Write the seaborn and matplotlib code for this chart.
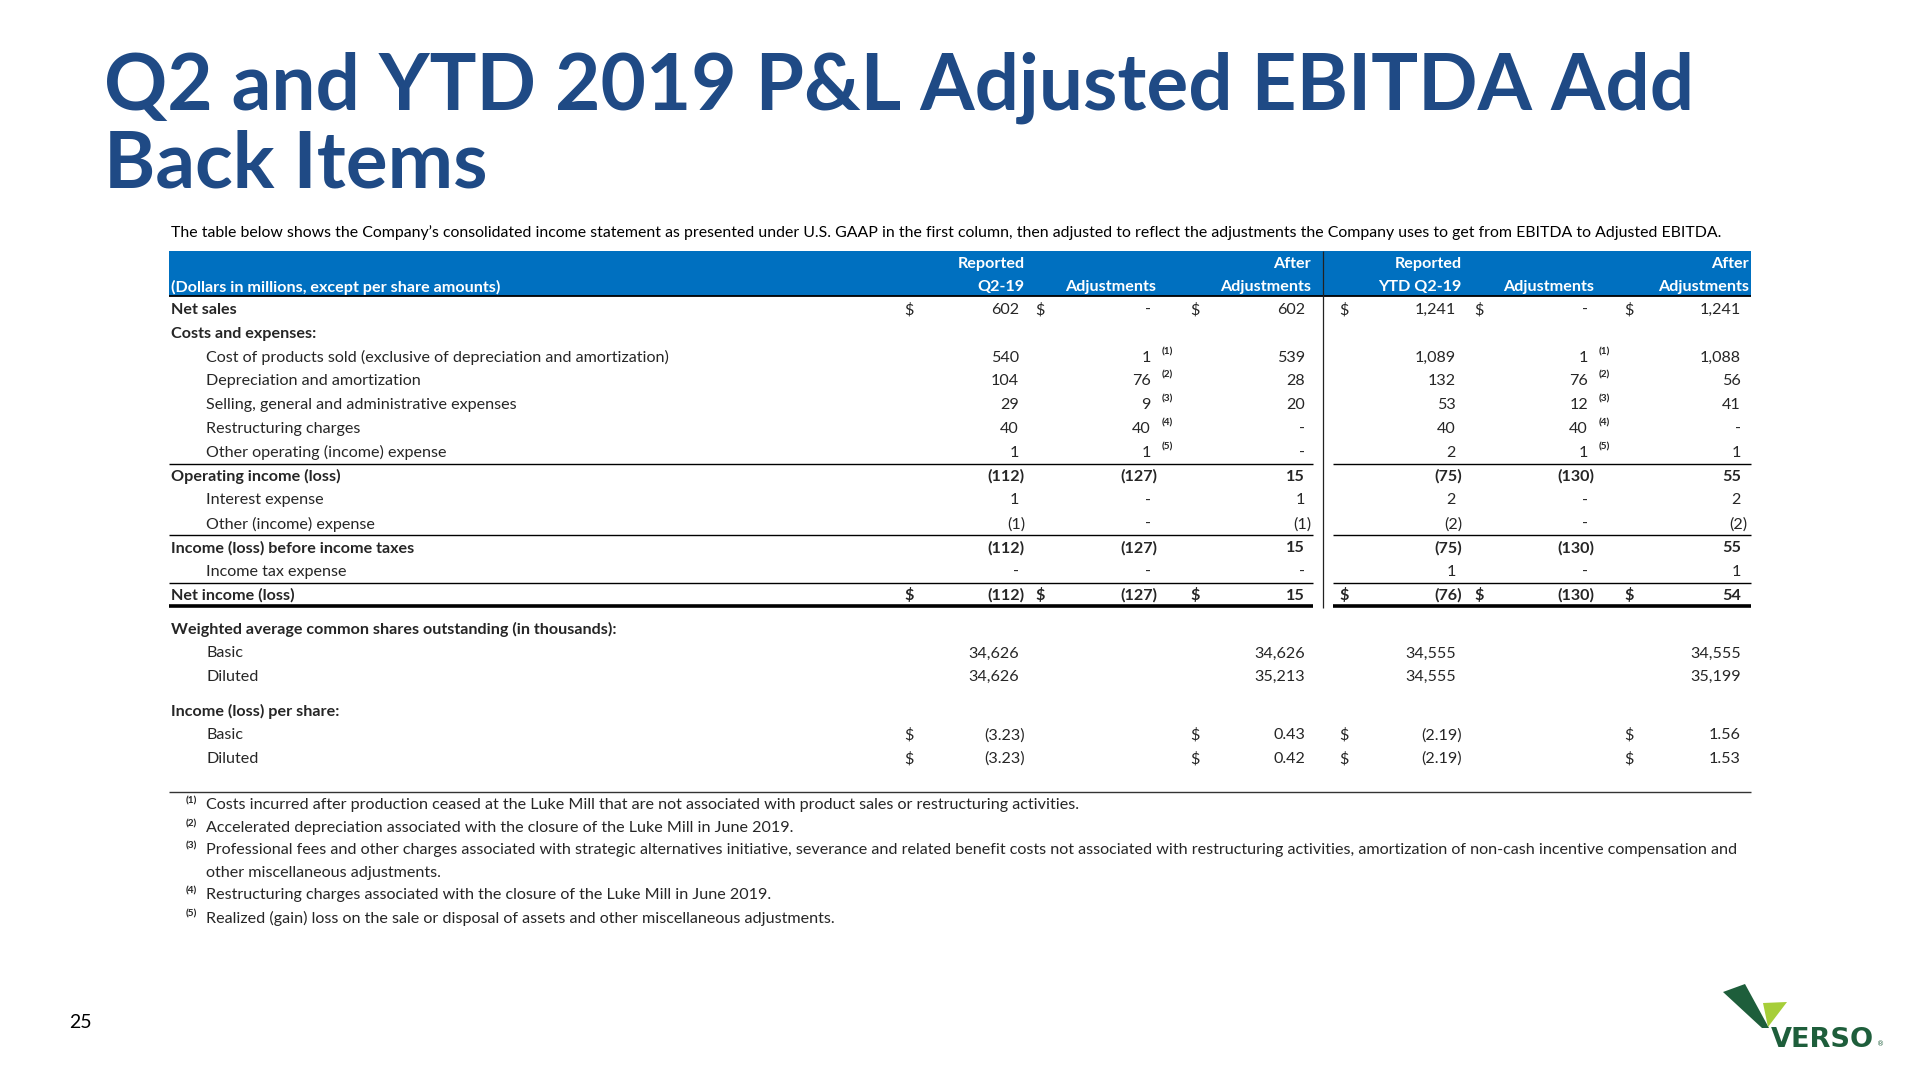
import matplotlib
matplotlib.use("Agg")
import matplotlib.pyplot as plt
import seaborn as sns

# ---- table content ----
row_labels = [
    "Net sales",
    "Costs and expenses:",
    "Cost of products sold (exclusive of depreciation and amortization)",
    "Depreciation and amortization",
    "Selling, general and administrative expenses",
    "Restructuring charges",
    "Other operating (income) expense",
    "Operating income (loss)",
    "Interest expense",
    "Other (income) expense",
    "Income (loss) before income taxes",
    "Income tax expense",
    "Net income (loss)",
    "Weighted average common shares outstanding (in thousands):",
    "Basic",
    "Diluted",
    "Income (loss) per share:",
    "Basic",
    "Diluted",
]
bold_rows = [0, 1, 7, 10, 12, 13, 16]
bold_value_rows = [7, 10, 12]
indent_rows = [2, 3, 4, 5, 6, 8, 9, 11, 14, 15, 17, 18]
dollar_rows = [0, 12, 17, 18]
per_share_rows = [17, 18]

q2_reported = [602, None, 540, 104, 29, 40, 1, -112, 1, -1, -112, 0, -112, None, 34626, 34626, None, -3.23, -3.23]
q2_adjust = [0, None, 1, 76, 9, 40, 1, -127, 0, 0, -127, 0, -127, None, None, None, None, None, None]
q2_after = [602, None, 539, 28, 20, 0, 0, 15, 1, -1, 15, 0, 15, None, 34626, 35213, None, 0.43, 0.42]
ytd_reported = [1241, None, 1089, 132, 53, 40, 2, -75, 2, -2, -75, 1, -76, None, 34555, 34555, None, -2.19, -2.19]
ytd_adjust = [0, None, 1, 76, 12, 40, 1, -130, 0, 0, -130, 0, -130, None, None, None, None, None, None]
ytd_after = [1241, None, 1088, 56, 41, 0, 1, 55, 2, -2, 55, 1, 54, None, 34555, 35199, None, 1.56, 1.53]

footnote_rows = [2, 3, 4, 5, 6]
footnote_marks = ["(1)", "(2)", "(3)", "(4)", "(5)"]
footnotes = [
    ("(1)", "Costs incurred after production ceased at the Luke Mill that are not associated with product sales or restructuring activities."),
    ("(2)", "Accelerated depreciation associated with the closure of the Luke Mill in June 2019."),
    ("(3)", "Professional fees and other charges associated with strategic alternatives initiative, severance and related benefit costs not associated with restructuring activities, amortization of non-cash incentive compensation and"),
    ("", "other miscellaneous adjustments."),
    ("(4)", "Restructuring charges associated with the closure of the Luke Mill in June 2019."),
    ("(5)", "Realized (gain) loss on the sale or disposal of assets and other miscellaneous adjustments."),
]

title = "Q2 and YTD 2019 P&L Adjusted EBITDA Add\nBack Items"
subtitle = ("The table below shows the Company\u2019s consolidated income statement as presented under U.S. GAAP "
            "in the first column, then adjusted to reflect the adjustments the Company uses to get from EBITDA to Adjusted EBITDA.")
header_top = ["Reported", "", "After", "Reported", "", "After"]
header_bottom = ["Q2-19", "Adjustments", "Adjustments", "YTD Q2-19", "Adjustments", "Adjustments"]

# ---- styling ----
TITLE_BLUE = "#1F4A85"
BAND_BLUE = "#0070C0"
FONT = ["Lato", "DejaVu Sans"]
FS = 11.65


def fmt(v, per_share=False):
    if v is None:
        return ""
    if v == 0:
        return "-"
    if per_share:
        s = f"{abs(v):.2f}"
    else:
        s = f"{abs(v):,.0f}"
    return f"({s})" if v < 0 else s


sns.set_theme(style="white")
plt.rcParams["font.family"] = FONT

fig = plt.figure(figsize=(19.2, 10.8), dpi=100)
ax = fig.add_axes([0, 0, 1, 1])
ax.set_xlim(0, 1920)
ax.set_ylim(1080, 0)
ax.axis("off")

# title + subtitle
t1, t2 = title.split("\n")
ax.text(104, 88, t1, fontsize=56.3, fontweight="bold", color=TITLE_BLUE, va="center", ha="left")
ax.text(104, 165, t2, fontsize=56.3, fontweight="bold", color=TITLE_BLUE, va="center", ha="left")
ax.text(171, 233, subtitle, fontsize=11.45, color="black", va="center", ha="left")

# header band
left, right = 169, 1751
ax.fill_between([left, right], 251, 296, color=BAND_BLUE, lw=0)
ax.text(171, 287, "(Dollars in millions, except per share amounts)", fontsize=FS, fontweight="bold",
        color="white", va="center", ha="left")

# column layout: (dollar sign x, right edge x incl. closing paren)
cols = [(909, 1025), (1040, 1157), (1195, 1311), (1344, 1462), (1479, 1594), (1629, 1747)]
head_x = [(1025, "right"), (1111, "center"), (1311, "right"), (1462, "right"), (1549, "center"), (1749, "right")]
for (hx, ha), h1, h2 in zip(head_x, header_top, header_bottom):
    ax.text(hx, 264, h1, fontsize=FS, fontweight="bold", color="white", va="center", ha=ha)
    ax.text(hx, 287, h2, fontsize=FS, fontweight="bold", color="white", va="center", ha=ha)

# row positions
step = 23.8
row_y = []
y = 310
for i in range(len(row_labels)):
    if i in (13, 16):
        y += step * 1.43
    elif i > 0:
        y += step
    row_y.append(y)

series = [q2_reported, q2_adjust, q2_after, ytd_reported, ytd_adjust, ytd_after]
for i, lab in enumerate(row_labels):
    yy = row_y[i]
    weight = "bold" if i in bold_rows else "normal"
    vweight = "bold" if i in bold_value_rows else "normal"
    lx = 206 if i in indent_rows else 171
    ax.text(lx, yy, lab, fontsize=FS, fontweight=weight, va="center", ha="left")
    for (dx, rx), vals in zip(cols, series):
        v = vals[i]
        if v is None:
            continue
        s = fmt(v, i in per_share_rows)
        x = rx if s.endswith(")") else rx - 6
        ax.text(x, yy, s, fontsize=FS, fontweight=vweight, va="center", ha="right")
        if i in dollar_rows:
            ax.text(dx, yy, "$", fontsize=FS, fontweight=vweight, va="center", ha="center")

# footnote markers on adjustments
for r, m in zip(footnote_rows, footnote_marks):
    for rx in (1157, 1594):
        ax.text(rx + 5, row_y[r] - 6, m, fontsize=FS * 0.62, fontweight="bold", va="center", ha="left")

# rules
ax.hlines(296, left, right, color="black", lw=1.3)
seg_l, seg_r = (left, 1313), (1333, right)
for yl in (464, 535, 583):
    for a, b in (seg_l, seg_r):
        ax.hlines(yl, a, b, color="black", lw=1.0)
for a, b in (seg_l, seg_r):
    ax.hlines(606, a, b, color="black", lw=2.6)
ax.vlines(1323, 251, 608, color="#222222", lw=0.9)
ax.hlines(792, left, right, color="#333333", lw=1.0)

# footnotes
fy = 805
for mark, txt in footnotes:
    if mark:
        ax.text(186, fy - 4, mark, fontsize=FS * 0.62, fontweight="bold", va="center", ha="left")
    ax.text(206, fy, txt, fontsize=FS, va="center", ha="left")
    fy += 22.6

# page number
ax.text(80, 1022, "25", fontsize=14, va="center", ha="center", color="black")

# logo
ax.fill([1723, 1745, 1769, 1762], [992, 984, 1028, 1028], color="#1E5E3B", lw=0)
ax.fill([1763, 1787, 1768], [1003, 1002, 1027], color="#A6CE39", lw=0)
ax.text(1771, 1040, "VERSO", fontsize=19.5, fontweight="heavy", color="#1E5E3B", va="center", ha="left",
        family=["DejaVu Sans"])
ax.text(1877, 1044, "\u00ae", fontsize=5, color="#1E5E3B", va="center", ha="left", family=["DejaVu Sans"])

fig.savefig("out.png", dpi=100, facecolor="white")
